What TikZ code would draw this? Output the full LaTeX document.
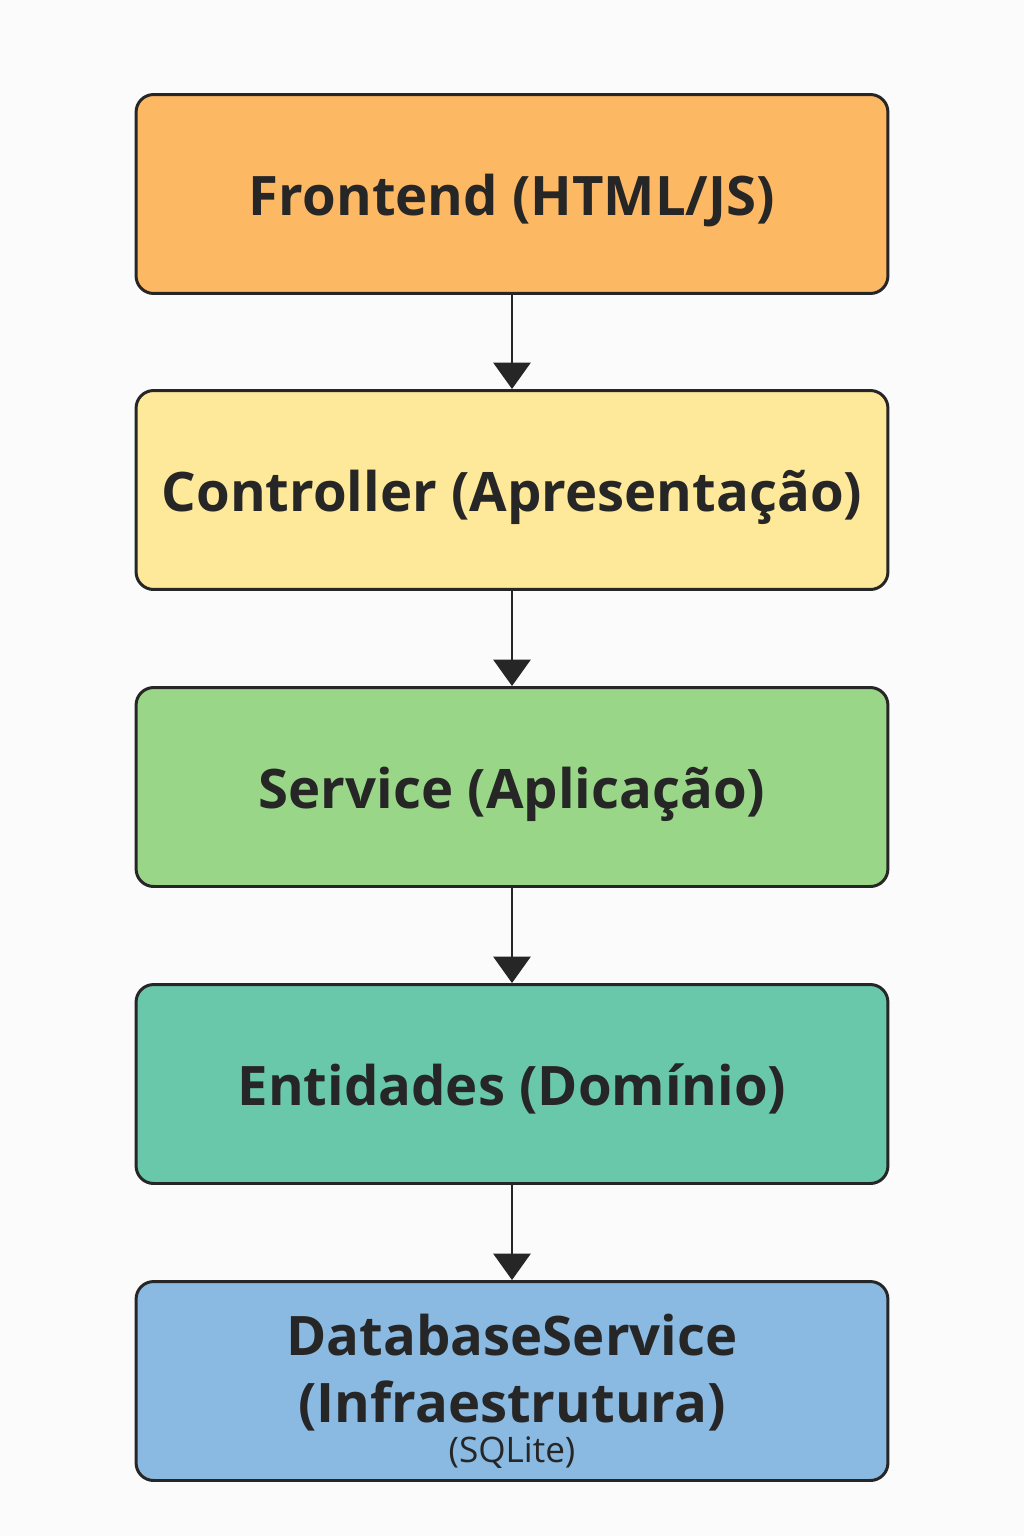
\documentclass[tikz,border=0pt]{standalone}
\usepackage{fontspec}
\setmainfont{Open Sans}
\usetikzlibrary{arrows.meta}
\definecolor{bgcol}{HTML}{FBFBFB}
\definecolor{linecol}{HTML}{262626}
\definecolor{frontcol}{HTML}{FDB864}
\definecolor{ctrlcol}{HTML}{FEE899}
\definecolor{servcol}{HTML}{9AD688}
\definecolor{entcol}{HTML}{6AC8AA}
\definecolor{dbcol}{HTML}{8AB9E1}
\tikzstyle{layer}=[draw=linecol,line width=1.7pt,rounded corners=10pt,minimum width=15.04cm,minimum height=3.98cm,inner sep=0pt,align=center,text=linecol,text height=28pt,text depth=3pt,font=\fontsize{31}{38}\selectfont\bfseries]
\tikzstyle{edge} = [draw=linecol,line width=1.7pt,-{Triangle[length=15pt,width=21pt]}]

\begin{document}
\begin{tikzpicture}[x=0.02cm,y=-0.02cm]
  \fill[bgcol] (0,0) rectangle (1024,1536);
  \useasboundingbox (0,0) rectangle (1024,1536);

  % Layers
  \foreach \pos/\name/\col/\txt in {{(512,194)/front/frontcol/{Frontend (HTML/JS)}},
      {(512,490)/ctrl/ctrlcol/{Controller (Apresentação)}},
      {(512,787)/serv/servcol/{Service (Aplicação)}},
      {(512,1084)/ent/entcol/{Entidades (Domínio)}}}
    \node[layer,fill=\col] (\name) at \pos {\txt};

  \node[layer,fill=dbcol] (db) at (512,1381) {};
  \node[align=center,text=linecol,font=\fontsize{31}{38}\selectfont\bfseries,inner sep=0pt] (dbtxt) at ([yshift=-6pt]db.center)
    {DatabaseService\\(Infraestrutura)\\[-15pt]{\fontsize{20}{22}\selectfont\mdseries (SQLite)}};

  % Connect layers
  \foreach \source/\dest in {front/ctrl, ctrl/serv, serv/ent, ent/db}
    \path[edge] (\source) -- (\dest);

\end{tikzpicture}
\end{document}
